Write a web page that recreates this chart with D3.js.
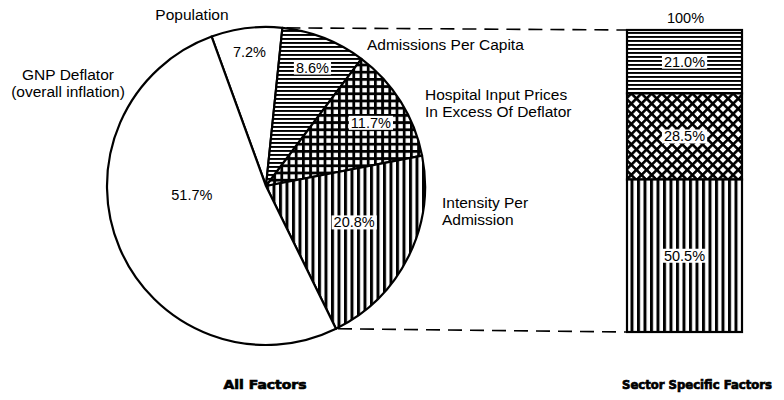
<!DOCTYPE html>
<html><head><meta charset="utf-8">
<script src="https://cdn.jsdelivr.net/npm/d3@7"></script>
<style>body{margin:0;background:#fff}svg{display:block}</style>
</head><body>
<svg id="c" width="784" height="400"></svg>
<script>
// ---- data ----
const categories = ["Population", "Admissions Per Capita", "Hospital Input Prices In Excess Of Deflator", "Intensity Per Admission", "GNP Deflator (overall inflation)"];
const allFactors = [7.2, 8.6, 11.7, 20.8, 51.7];
const sectorCategories = ["Admissions Per Capita", "Hospital Input Prices In Excess Of Deflator", "Intensity Per Admission"];
const sectorShares = [21.0, 28.5, 50.5];
const barTopLabel = "100%";
const titles = ["All Factors", "Sector Specific Factors"];

const svg = d3.select("#c");
const FONT = "'Liberation Sans', Arial, Helvetica, sans-serif";
const defs = svg.append("defs");

// patterns
function hlines(id, p, w) {
  const pt = defs.append("pattern").attr("id", id).attr("patternUnits", "userSpaceOnUse").attr("width", 8).attr("height", p);
  pt.append("rect").attr("width", 8).attr("height", p).attr("fill", "#fff");
  pt.append("rect").attr("y", 0).attr("width", 8).attr("height", w).attr("fill", "#000");
}
function vlines(id, p, w) {
  const pt = defs.append("pattern").attr("id", id).attr("patternUnits", "userSpaceOnUse").attr("width", p).attr("height", 8);
  pt.append("rect").attr("width", p).attr("height", 8).attr("fill", "#fff");
  pt.append("rect").attr("x", 0).attr("width", w).attr("height", 8).attr("fill", "#000");
}
function grid(id, p, w, rot) {
  const pt = defs.append("pattern").attr("id", id).attr("patternUnits", "userSpaceOnUse").attr("width", p).attr("height", p);
  if (rot) pt.attr("patternTransform", `rotate(${rot})`);
  pt.append("rect").attr("width", p).attr("height", p).attr("fill", "#fff");
  pt.append("rect").attr("width", p).attr("height", w).attr("fill", "#000");
  pt.append("rect").attr("width", w).attr("height", p).attr("fill", "#000");
}
hlines("ph", 4, 1.9);
vlines("pv", 6.5, 3);
grid("pg", 7.2, 2.8, 0);
grid("pd", 7.2, 2.6, 45);

const pieFills = ["#fff", "url(#ph)", "url(#pg)", "url(#pv)", "#fff"];
const barFills = ["url(#ph)", "url(#pd)", "url(#pv)"];

// ---- pie ----
const cx = 266, cy = 186, R = 159;
const deg = Math.PI / 180;
const pie = d3.pie().sort(null).startAngle(-20 * deg).endAngle(340 * deg);
const arcs = pie(allFactors);
const arc = d3.arc().innerRadius(0).outerRadius(R);
const g = svg.append("g").attr("transform", `translate(${cx},${cy})`);
g.selectAll("path").data(arcs).join("path")
  .attr("d", arc).attr("fill", (d, i) => pieFills[i])
  .attr("stroke", "#000").attr("stroke-width", 2.2).attr("stroke-linejoin", "round");

// label placement: [radius fraction, angle offset deg]
const pieLabelPlace = [[0.85, 0], [0.80, 0], [0.77, 1], [0.6, -4], [0.47, 16]];
const fmt = v => v.toFixed(1) + "%";
arcs.forEach((d, i) => {
  const a = (d.startAngle + d.endAngle) / 2 + pieLabelPlace[i][1] * deg;
  const r = R * pieLabelPlace[i][0];
  const x = Math.sin(a) * r, y = -Math.cos(a) * r;
  const t = g.append("text").attr("x", x).attr("y", y).attr("text-anchor", "middle")
    .attr("dominant-baseline", "central").attr("font-family", FONT).attr("font-size", 14.5)
    .text(fmt(allFactors[i]));
  if (pieFills[i] !== "#fff") {
    const bb = t.node().getBBox();
    g.insert("rect", "text:last-of-type").attr("x", bb.x - 2).attr("y", bb.y + 1).attr("width", bb.width + 4).attr("height", bb.height - 2).attr("fill", "#fff");
  }
});

// outer labels
const outer = [
  {lines: [categories[0]], x: 192, y: 20, anchor: "middle"},
  {lines: [categories[1]], x: 367, y: 50, anchor: "start"},
  {lines: ["Hospital Input Prices", "In Excess Of Deflator"], x: 425, y: 100, anchor: "start"},
  {lines: ["Intensity Per", "Admission"], x: 442, y: 208, anchor: "start"},
  {lines: ["GNP Deflator", "(overall inflation)"], x: 68, y: 80, anchor: "middle"}
];
outer.forEach(o => {
  o.lines.forEach((ln, k) => {
    svg.append("text").attr("x", o.x).attr("y", o.y + k * 17).attr("text-anchor", o.anchor)
      .attr("font-family", FONT).attr("font-size", 15.5).text(ln);
  });
});

// ---- stacked bar ----
const bx0 = 627, bx1 = 742;
const y = d3.scaleLinear().domain([0, 100]).range([30, 332]);
let cum = 0;
const segs = sectorShares.map((v, i) => { const s = {i, v, y0: cum, y1: cum + v}; cum += v; return s; });
const bg = svg.append("g");
bg.selectAll("rect").data(segs).join("rect")
  .attr("x", bx0).attr("width", bx1 - bx0)
  .attr("y", d => y(d.y0)).attr("height", d => y(d.y1) - y(d.y0))
  .attr("fill", d => barFills[d.i]).attr("stroke", "#000").attr("stroke-width", 2.2);
segs.forEach(s => {
  const cyl = (y(s.y0) + y(s.y1)) / 2;
  const t = bg.append("text").attr("x", (bx0 + bx1) / 2).attr("y", cyl).attr("text-anchor", "middle")
    .attr("dominant-baseline", "central").attr("font-family", FONT).attr("font-size", 14.5).text(fmt(s.v));
  const bb = t.node().getBBox();
  bg.insert("rect", "text:last-of-type").attr("x", bb.x - 2).attr("y", bb.y + 1).attr("width", bb.width + 4).attr("height", bb.height - 2).attr("fill", "#fff");
});
svg.append("text").attr("x", (bx0 + bx1) / 2 + 1).attr("y", 23).attr("text-anchor", "middle")
  .attr("font-family", FONT).attr("font-size", 14.5).text(barTopLabel);

// dashed connectors
const pt = a => [cx + Math.sin(a) * R, cy - Math.cos(a) * R];
const pTop = pt(arcs[1].startAngle), pBot = pt(arcs[3].endAngle);
svg.append("line").attr("x1", pTop[0] + 4).attr("y1", pTop[1]).attr("x2", bx0).attr("y2", y(0))
  .attr("stroke", "#000").attr("stroke-width", 1.6).attr("stroke-dasharray", "14,8");
svg.append("line").attr("x1", pBot[0] + 2).attr("y1", pBot[1]).attr("x2", bx0).attr("y2", y(100))
  .attr("stroke", "#000").attr("stroke-width", 1.6).attr("stroke-dasharray", "14,8");

// titles
const TFONT = "'DejaVu Sans', sans-serif";
svg.append("text").attr("x", 265).attr("y", 389).attr("text-anchor", "middle")
  .attr("font-family", TFONT).attr("font-weight", "bold").attr("font-size", 12.5)
  .attr("stroke", "#000").attr("stroke-width", 0.7)
  .attr("textLength", 83).attr("lengthAdjust", "spacingAndGlyphs").text(titles[0]);
svg.append("text").attr("x", 697).attr("y", 389).attr("text-anchor", "middle")
  .attr("font-family", TFONT).attr("font-weight", "bold").attr("font-size", 12)
  .attr("stroke", "#000").attr("stroke-width", 0.7)
  .attr("textLength", 150).attr("lengthAdjust", "spacingAndGlyphs").text(titles[1]);
</script>
</body></html>
